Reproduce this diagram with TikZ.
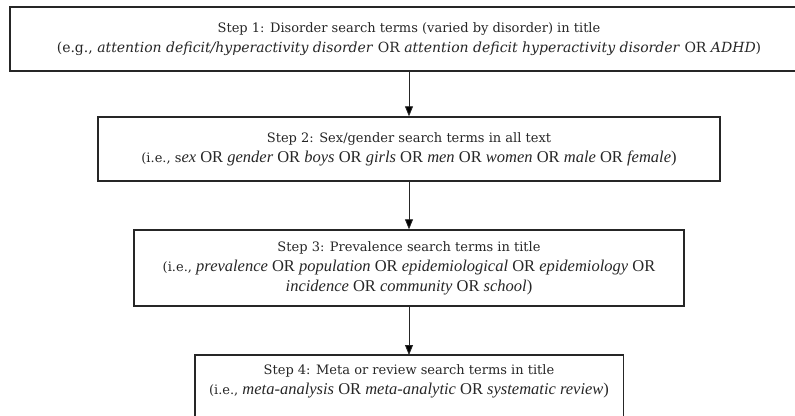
\documentclass[tikz,border=0pt]{standalone}
\usepackage{fontspec}
\setmainfont{DejaVu Serif}
\newfontfamily\garamond{Liberation Serif}
\usetikzlibrary{
    arrows.meta,
    positioning
}
\newcommand{\term}[1]{{\garamond\fontsize{16.5}{20}\selectfont\itshape #1}}
\newcommand{\orword}{{\garamond\fontsize{16.5}{20}\selectfont OR}}
\newcommand{\closepar}{{\garamond\fontsize{16.5}{20}\selectfont)}}
\tikzset{
    every picture/.style = {
        > = {Triangle[length=10pt, width=8pt]},
        x = 1pt,
        y = -1pt
    },
    every node/.style = {
        align = center,
        text = black!85,
        font = \fontsize{13}{20}\selectfont
    },
    stepbox/.style = {
        draw = black!85,
        line width = 1.4pt,
        inner sep = 0pt
    },
    frameline/.style = {
        draw = black!85,
        line width = 1.4pt
    },
    arrowline/.style = {
        ->,
        draw = black!85,
        line width = 0.8pt
    }
}

\begin{document}
\begin{tikzpicture}
    \useasboundingbox (0,0) rectangle (795,415);
    \node[stepbox, minimum width = 798pt, minimum height = 64pt] (step1) at (409,39)
        {Step 1: Disorder search terms (varied by disorder) in title\\
         {\fontsize{14}{20}\selectfont (e.g., \textit{attention deficit/hyperactivity disorder} OR \textit{attention deficit hyperactivity disorder} OR \textit{ADHD})}};
    \node[stepbox, minimum width = 622pt, minimum height = 64pt] (step2) at (409,149)
        {Step 2: Sex/gender search terms in all text\\
         (i.e., s\term{ex} \orword{} \term{gender} \orword{} \term{boys} \orword{} \term{girls} \orword{} \term{men} \orword{} \term{women} \orword{} \term{male} \orword{} \term{female}\closepar};
    \node[stepbox, minimum width = 550pt, minimum height = 76pt] (step3) at (409,268)
        {Step 3: Prevalence search terms in title\\
         (i.e., \term{prevalence} \orword{} \term{population} \orword{} \term{epidemiological} \orword{} \term{epidemiology} \orword\\
         \term{incidence} \orword{} \term{community} \orword{} \term{school}\closepar};
    \node[minimum width = 428pt, inner ysep = 9pt, anchor = north] (step4) at (409,355)
        {Step 4: Meta or review search terms in title\\
         (i.e., \term{meta-analysis} \orword{} \term{meta-analytic} \orword{} \term{systematic review}\closepar};
    \coordinate (pagebottom) at (409,425);
    \draw[frameline] (step4.north west |- pagebottom) -- (step4.north west)
        -- (step4.north east) -- (step4.north east |- pagebottom);
    \path[arrowline] (step1) edge (step2);
    \path[arrowline] (step2) edge (step3);
    \path[arrowline] (step3) edge (step4);
\end{tikzpicture}
\end{document}
